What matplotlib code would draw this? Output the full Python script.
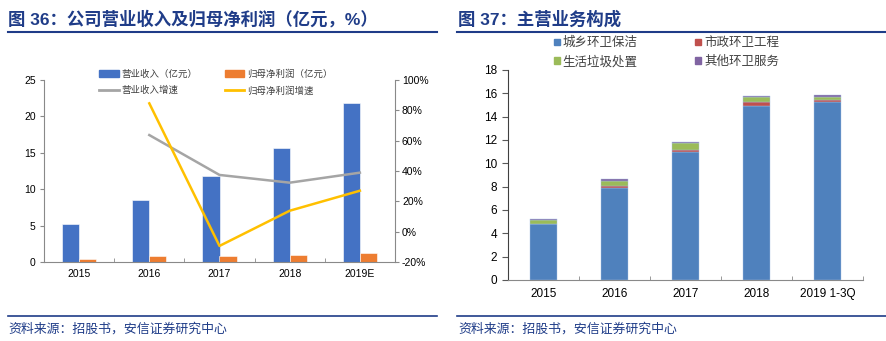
import matplotlib
matplotlib.use("Agg")
import matplotlib.pyplot as plt
import numpy as np
from matplotlib.patches import Patch
from matplotlib.lines import Line2D

plt.rcParams['font.family'] = ['Liberation Sans', 'Noto Sans CJK SC']
plt.rcParams['axes.unicode_minus'] = False

# ---------- data: left chart ----------
years_l = ['2015', '2016', '2017', '2018', '2019E']
revenue = [5.18, 8.52, 11.8, 15.66, 21.9]
net_profit = [0.41, 0.87, 0.78, 0.96, 1.28]
rev_growth = [np.nan, 63.7, 37.4, 32.3, 38.9]
np_growth = [np.nan, 84.6, -9.4, 13.8, 27.0]
left_yticks = [0, 5, 10, 15, 20, 25]
right_yticks = [-20, 0, 20, 40, 60, 80, 100]

# ---------- data: right chart ----------
years_r = ['2015', '2016', '2017', '2018', '2019 1-3Q']
urban_rural = [4.77, 7.91, 10.94, 14.94, 15.28]
municipal = [0.03, 0.15, 0.20, 0.34, 0.17]
garbage = [0.37, 0.45, 0.60, 0.40, 0.26]
other = [0.08, 0.14, 0.11, 0.12, 0.14]
seg_labels = ['城乡环卫保洁', '市政环卫工程', '生活垃圾处置', '其他环卫服务']
r_yticks = list(range(0, 19, 2))

W, H = 887, 341
fig = plt.figure(figsize=(W / 100, H / 100), dpi=100)

def fx(px):
    return px / W

def fy(py):
    return 1 - py / H

TITLE_C = '#1F3C88'
title_font = dict(fontsize=12.5, fontweight='bold', color=TITLE_C, va='center', ha='left')
fig.text(fx(8), fy(19), '图 36：公司营业收入及归母净利润（亿元，%）', **title_font)
fig.text(fx(458), fy(19), '图 37：主营业务构成', **title_font)
for x0, x1 in [(8, 437), (457, 887)]:
    fig.add_artist(Line2D([fx(x0), fx(x1)], [fy(32), fy(32)], color=TITLE_C, lw=1.5))
    fig.add_artist(Line2D([fx(x0), fx(x1)], [fy(316), fy(316)], color=TITLE_C, lw=1.2))
fig.text(fx(8), fy(329), '资料来源：招股书，安信证券研究中心', fontsize=9.3, color=TITLE_C,
         va='center', ha='left', style='italic')
fig.text(fx(458), fy(329), '资料来源：招股书，安信证券研究中心', fontsize=9.3, color=TITLE_C,
         va='center', ha='left', style='italic')

GRAY = '#898989'
TXT = '#000000'

# ---------- left chart ----------
ax = fig.add_axes([fx(44), fy(262), fx(395 - 44), (262 - 80) / H])
x = np.arange(len(years_l))
bw = 0.245
ax.bar(x - bw / 2, revenue, bw, color='#4472C4', edgecolor='white', linewidth=0.4, zorder=2)
ax.bar(x + bw / 2, net_profit, bw, color='#ED7D31', edgecolor='white', linewidth=0.4, zorder=2)
ax.set_xlim(-0.5, len(years_l) - 0.5)
ax.set_ylim(0, 25)
ax.set_yticks(left_yticks)
ax.set_xticks(x)
ax.set_xticklabels(years_l)
ax.set_xticks(np.arange(-0.5, len(years_l), 1), minor=True)
ax.tick_params(axis='x', which='major', length=0, pad=5, labelsize=7.5, colors=TXT)
ax.tick_params(axis='x', which='minor', length=3, direction='in', color=GRAY)
ax.tick_params(axis='y', length=3, pad=3, labelsize=7.5, colors=TXT, color=GRAY)
for s in ['top', 'right']:
    ax.spines[s].set_visible(False)
for s in ['left', 'bottom']:
    ax.spines[s].set_color(GRAY)

ax2 = ax.twinx()
ax2.plot(x, rev_growth, color='#A5A5A5', lw=1.8, zorder=3)
ax2.plot(x, np_growth, color='#FFC000', lw=1.8, zorder=3)
ax2.set_ylim(-20, 100)
ax2.set_yticks(right_yticks)
ax2.set_yticklabels([f'{v}%' for v in right_yticks])
ax2.tick_params(axis='y', length=3, pad=2, labelsize=7.5, colors=TXT, color=GRAY)
for s in ['top', 'left', 'bottom']:
    ax2.spines[s].set_visible(False)
ax2.spines['right'].set_color(GRAY)

handles = [Patch(color='#4472C4'), Line2D([], [], color='#A5A5A5', lw=2),
           Patch(color='#ED7D31'), Line2D([], [], color='#FFC000', lw=2)]
labels = ['营业收入（亿元）', '营业收入增速', '归母净利润（亿元）', '归母净利润增速']
fig.legend(handles, labels, ncol=2, loc='upper left',
           bbox_to_anchor=(fx(99), fy(69)), frameon=False, fontsize=6.8,
           borderpad=0, borderaxespad=0, handlelength=2.1, handleheight=0.7,
           handletextpad=0.25, columnspacing=2.9, labelspacing=0.75, labelcolor='#404040')

# ---------- right chart ----------
bx = fig.add_axes([fx(508), fy(280), fx(863 - 508), (280 - 70) / H])
xr = np.arange(len(years_r))
bw2 = 0.39
cols = ['#4F81BD', '#C0504D', '#9BBB59', '#8064A2']
bottom = np.zeros(len(years_r))
for vals, c in zip([urban_rural, municipal, garbage, other], cols):
    bx.bar(xr, vals, bw2, bottom=bottom, color=c, edgecolor='#A9C4E4', linewidth=0.3, zorder=2)
    bottom += np.array(vals)
bx.set_xlim(-0.5, len(years_r) - 0.5)
bx.set_ylim(0, 18)
bx.set_yticks(r_yticks)
bx.set_xticks(xr)
bx.set_xticklabels(years_r)
bx.set_xticks(np.arange(-0.5, len(years_r), 1), minor=True)
bx.tick_params(axis='x', which='major', length=0, pad=6, labelsize=8.5, colors=TXT)
bx.tick_params(axis='x', which='minor', length=3, direction='in', color=GRAY)
bx.tick_params(axis='y', length=4, pad=4, labelsize=8.5, colors=TXT, color='#595959')
for s in ['top', 'right']:
    bx.spines[s].set_visible(False)
bx.spines['left'].set_color('#404040')
bx.spines['bottom'].set_color(GRAY)

h2 = [Patch(color=cols[0]), Patch(color=cols[2]), Patch(color=cols[1]), Patch(color=cols[3])]
l2 = [seg_labels[0], seg_labels[2], seg_labels[1], seg_labels[3]]
fig.legend(h2, l2, ncol=2, loc='upper left', bbox_to_anchor=(fx(554), fy(37)),
           frameon=False, fontsize=9, borderpad=0, borderaxespad=0,
           handlelength=0.45, handleheight=0.45, handletextpad=0.25,
           columnspacing=4.6, labelspacing=0.5, labelcolor='#404040')

fig.savefig('out.png', dpi=100)
